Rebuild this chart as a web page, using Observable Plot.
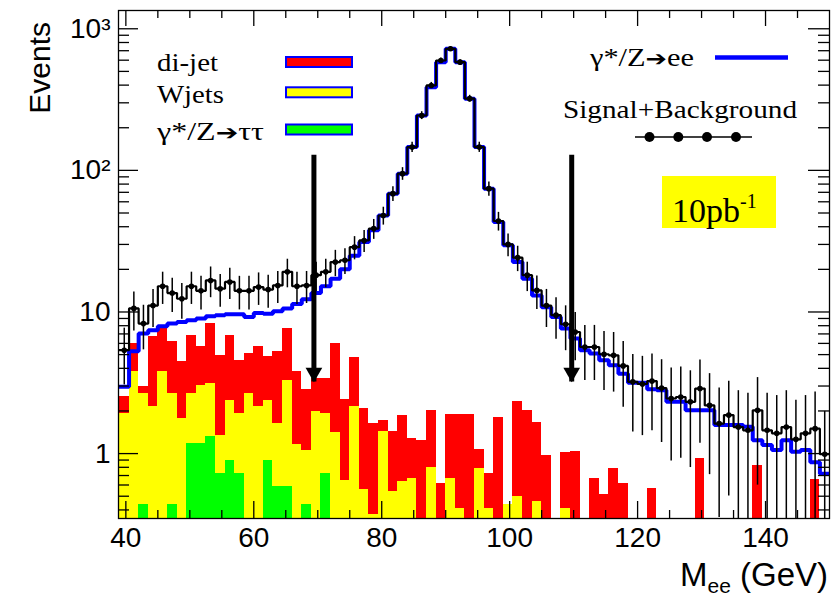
<!DOCTYPE html>
<html>
<head>
<meta charset="utf-8">
<script src="https://cdn.jsdelivr.net/npm/d3@7"></script>
<script src="https://cdn.jsdelivr.net/npm/@observablehq/plot@0.6"></script>
<style>
html, body { margin: 0; padding: 0; background: #ffffff; }
#chart { width: 836px; height: 596px; }
</style>
</head>
<body>
<div id="chart"></div>
<script>
// ---- Histogram binning (M_ee, GeV) ----
const massLow = 39, massHigh = 150, nBins = 74;

// ---- Series (events per bin, 10 pb^-1) ----
// gamma*/Z -> ee (blue line)
const zee = [2.96,5.28,7.05,7.43,7.93,8.28,8.50,8.74,8.98,9.33,
  9.48,9.63,9.63,9.2,9.84,9.7,10.1,10.6,11.4,12.3,
  13.6,15.2,17.2,20.0,25.0,31.2,37.7,48,68.5,94.8,
  146,244,387,581,722,581,321,146,74.3,43.2,
  29.6,22.5,17.2,13.1,10.8,9.2,7.64,6.49,5.37,5.09,
  4.56,4.2,3.67,3.16,3.16,2.85,2.80,2.32,2.32,2.02,
  2.02,2.02,1.59,1.59,1.59,1.55,1.24,1.15,1.06,1.24,
  1.03,1.06,0.87,0.72];
// Signal+Background (black points)
const sigBkg = [5.37,10.6,8.28,11.1,15.2,13.6,12.4,15.2,14.1,16.7,
  14.6,16.3,14.1,14.1,15.0,14.4,15.4,19.2,15.2,15.4,
  18.2,19.2,22.5,23.2,28.7,32,38.8,48,68.5,94.8,
  146,244,398,597,722,581,321,146,74.3,43.9,
  30,24.2,18.2,14.2,11.1,9.5,8.19,7.22,5.66,5.66,
  5.03,4.94,4.16,3.21,3.1,3.25,2.9,2.45,2.51,2.32,
  2.88,2.19,1.63,1.87,1.54,1.46,2.02,1.46,1.39,1.54,
  1.26,1.39,1.50,0.99];
// gamma*/Z -> tautau (green, bottom of stack)
const tautau = [0,0,0.44,0,0,0.44,0,1.18,1.18,1.31,
  0.72,0.90,0.72,0,0,0.90,0.59,0.59,0,0.44,
  0,0.72,0,0,0,0,0,0,0,0,
  0,0,0,0,0,0,0,0,0,0,
  0,0,0,0,0,0,0,0,0,0,
  0,0,0,0,0,0,0,0,0,0,
  0,0,0,0,0,0,0,0,0,0,
  0,0,0,0];
// W+jets (yellow, middle of stack)
const wjets = [1.92,3.77,2.22,2.14,3.77,2.22,1.77,1.48,1.86,1.81,
  0.63,1.48,1.20,2.66,2.14,1.48,1.04,2.71,1.15,0.62,
  1.97,1.20,1.42,0.65,2.14,0.56,0.37,1.44,0.54,0.63,
  0.67,0,0.80,0,0.67,0.41,0,0.78,0.41,0,
  0.44,0.50,0,0.46,0,0,0.41,0,0,0,
  0,0,0,0,0,0,0,0,0,0,
  0,0,0,0,0,0,0,0,0,0,
  0,0,0,0];
// di-jet (red, top of stack)
const dijet = [0.59,2.21,0.30,4.52,3.87,3.48,2.67,4.19,2.62,5.16,
  3.59,4.47,2.64,2.43,3.52,2.44,3.59,4.34,2.62,1.77,
  1.42,1.47,4.56,1.76,2.63,1.52,1.26,0.28,0.90,1.22,
  0.61,1.24,1.20,0.61,1.22,1.48,1.89,0.29,0.31,1.80,
  0,1.82,2.00,1.20,0.97,0,0.61,1.04,0,0.67,
  0.51,0.79,0.61,0,0,0.57,0,0,0,0,
  0.93,0,0,0,0,0,0.82,0,0,0,
  0,0,0.66,0];

// ---- Selection cuts (arrows) ----
const cutMass = [69.4, 109.7];
const arrowTop = 128, arrowTip = 3.2;

// ---- Axes ----
const xDomain = [38.85, 150];
const yDomain = [0.348, 1346];
const xMajorTicks = [40, 60, 80, 100, 120, 140];
const xMinorTicks = [45, 50, 55, 65, 70, 75, 85, 90, 95, 105, 110, 115, 125, 130, 135, 145];
const yMajorTicks = [1, 10, 100, 1000];
const yTickLabels = ["1", "10", "10\u00B2", "10\u00B3"];
const yMinorTicks = [0.4,0.5,0.6,0.7,0.8,0.9, 2,3,4,5,6,7,8,9, 20,30,40,50,60,70,80,90, 200,300,400,500,600,700,800,900];

// ---- Legend ----
const stackLegend = [
  {label: ["di-jet"], color: "#ff0000"},
  {label: ["Wjets"], color: "#ffff00"},
  {label: ["\u03B3*/Z", "\u2794", "\u03C4\u03C4"], color: "#00ff00"}
];

// ---- Build table ----
const binW = (massHigh - massLow) / nBins;
const bins = zee.map((_, i) => ({
  x1: massLow + i * binW,
  x2: massLow + (i + 1) * binW,
  xc: massLow + (i + 0.5) * binW,
  tt: tautau[i],
  ttw: tautau[i] + wjets[i],
  all: tautau[i] + wjets[i] + dijet[i],
  sb: sigBkg[i]
}));
const steps = vals => bins.flatMap((b, i) => [{x: b.x1, y: vals[i]}, {x: b.x2, y: vals[i]}]);
const yBase = 0.2;
const yLabel = new Map(yMajorTicks.map((v, i) => [v, yTickLabels[i]]));
const sans = "'Liberation Sans', Arial, Helvetica, sans-serif";
const serif = "'Liberation Serif', 'Times New Roman', Times, serif";

const chart = Plot.plot({
  width: 836,
  height: 596,
  marginLeft: 118,
  marginRight: 7,
  marginTop: 10,
  marginBottom: 78,
  style: {fontFamily: sans, color: "black", background: "white"},
  x: {type: "linear", domain: xDomain},
  y: {type: "log", domain: yDomain},
  marks: [
    // stacked backgrounds
    Plot.rect(bins.filter(d => d.all > 0), {x1: "x1", x2: "x2", y1: () => yBase, y2: "all", fill: "#ff0000", clip: true, shapeRendering: "crispEdges"}),
    Plot.rect(bins.filter(d => d.ttw > 0), {x1: "x1", x2: "x2", y1: () => yBase, y2: "ttw", fill: "#ffff00", clip: true, shapeRendering: "crispEdges"}),
    Plot.rect(bins.filter(d => d.tt > 0), {x1: "x1", x2: "x2", y1: () => yBase, y2: "tt", fill: "#00ff00", clip: true, shapeRendering: "crispEdges"}),
    // Z -> ee
    Plot.line(steps(zee), {x: "x", y: "y", stroke: "#0000ff", strokeWidth: 4, strokeLinejoin: "miter", clip: true}),
    // Signal + Background
    Plot.ruleX(bins, {x: "xc", y1: d => Math.max(d.sb - Math.sqrt(d.sb), yBase), y2: d => d.sb + Math.sqrt(d.sb), stroke: "black", strokeWidth: 1.5, clip: true}),
    Plot.line(steps(sigBkg), {x: "x", y: "y", stroke: "black", strokeWidth: 2.2, strokeLinejoin: "miter", clip: true}),
    Plot.dot(bins, {x: "xc", y: "sb", r: 2.8, fill: "black", stroke: "none", clip: true}),
    // cut arrows
    Plot.ruleX(cutMass, {x: d => d, y1: () => arrowTop, y2: () => arrowTip, stroke: "black", strokeWidth: 5}),
    Plot.dot(cutMass, {x: d => d, y: () => arrowTip, symbol: "triangle", rotate: 180, r: 6.2, dy: -9.5, fill: "black", stroke: "none"}),
    // inner ticks (ROOT style)
    Plot.axisY(yMinorTicks, {anchor: "left", tickSize: 11, dx: 11, fill: "none", label: null, strokeWidth: 1.3}),
    Plot.axisY(yMajorTicks, {anchor: "left", tickSize: 20, dx: 20, fill: "none", label: null, strokeWidth: 1.3}),
    Plot.axisY(yMinorTicks, {anchor: "right", tickSize: 12, dx: -12, fill: "none", label: null, strokeWidth: 1.3}),
    Plot.axisY(yMajorTicks, {anchor: "right", tickSize: 22, dx: -22, fill: "none", label: null, strokeWidth: 1.3}),
    Plot.axisX(xMinorTicks, {anchor: "bottom", tickSize: 8, dy: -8, fill: "none", label: null, strokeWidth: 1.3}),
    Plot.axisX(xMajorTicks, {anchor: "bottom", tickSize: 17, dy: -17, fill: "none", label: null, strokeWidth: 1.3}),
    Plot.axisX(xMinorTicks, {anchor: "top", tickSize: 7, dy: 7, fill: "none", label: null, strokeWidth: 1.3}),
    Plot.axisX(xMajorTicks, {anchor: "top", tickSize: 15, dy: 15, fill: "none", label: null, strokeWidth: 1.3}),
    // tick labels
    Plot.axisY(yMajorTicks, {anchor: "left", tickSize: 0, tickPadding: 8, tickFormat: d => yLabel.get(d), fontSize: 28, label: null}),
    Plot.axisX(xMajorTicks, {anchor: "bottom", tickSize: 0, tickPadding: 9, tickFormat: d => String(d), fontSize: 28, label: null}),
    Plot.frame({stroke: "black", strokeWidth: 1.3})
  ]
});
document.getElementById("chart").appendChild(chart);

// ---- Titles and legends (ROOT-style, inside the frame) ----
const svg = d3.select(chart);
svg.append("text")
  .attr("transform", "translate(50,22) rotate(-90)")
  .attr("text-anchor", "end")
  .style("font-family", sans).style("font-size", "30px").attr("fill", "black")
  .text("Events");

const xt = svg.append("text")
  .attr("x", 828).attr("y", 586).attr("text-anchor", "end")
  .style("font-family", sans).style("font-size", "33px").attr("fill", "black");
xt.append("tspan").text("M");
xt.append("tspan").attr("dy", 7).style("font-size", "21px").text("ee");
xt.append("tspan").attr("dy", -7).text(" (GeV)");

// legend text with optional heavy arrow glyph
function legendText(x, y, parts, width) {
  const t = svg.append("text")
    .attr("x", x).attr("y", y).attr("text-anchor", "start")
    .attr("textLength", width).attr("lengthAdjust", "spacingAndGlyphs")
    .style("font-family", serif).style("font-size", "25px").attr("fill", "black");
  parts.forEach((p, k) => {
    const s = t.append("tspan").text(p);
    if (k === 1) s.style("font-family", "'DejaVu Sans', sans-serif").style("font-size", "21px");
  });
  return t;
}

const legTextX = 157, legBaselines = [70.7, 103.3, 140], legBoxTops = [57, 87.3, 124.5], legWidths = [61, 67, 107];
stackLegend.forEach((d, i) => {
  legendText(legTextX, legBaselines[i], d.label, legWidths[i]);
  svg.append("rect")
    .attr("x", 286).attr("y", legBoxTops[i]).attr("width", 66).attr("height", 10)
    .attr("fill", d.color).attr("stroke", "#0000ff").attr("stroke-width", 2);
});

legendText(590, 65.7, ["\u03B3*/Z", "\u2794", "ee"], 104);
svg.append("line").attr("x1", 715).attr("x2", 788).attr("y1", 57.5).attr("y2", 57.5)
  .attr("stroke", "#0000ff").attr("stroke-width", 4.5);

legendText(563, 118.3, ["Signal+Background"], 234);
svg.append("line").attr("x1", 635).attr("x2", 752).attr("y1", 137).attr("y2", 137)
  .attr("stroke", "black").attr("stroke-width", 1.5);
[649.5, 678.3, 707, 736].forEach(cx => {
  svg.append("circle").attr("cx", cx).attr("cy", 137).attr("r", 5).attr("fill", "black");
});

svg.append("rect").attr("x", 662).attr("y", 176).attr("width", 114).attr("height", 52).attr("fill", "#ffff00");
const lumi = svg.append("text").attr("x", 672).attr("y", 222).attr("text-anchor", "start")
  .style("font-family", serif).style("font-size", "34px").attr("fill", "black");
lumi.append("tspan").text("10pb");
lumi.append("tspan").attr("dy", -14).style("font-size", "20px").text("-1");
</script>
</body>
</html>
